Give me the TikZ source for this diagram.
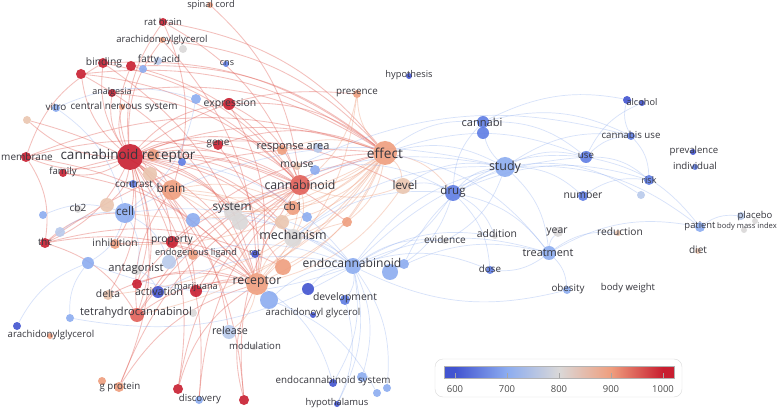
\documentclass[tikz,border=0pt]{standalone}
\usepackage{fontspec}
\setmainfont{Open Sans}
\definecolor{c6}{RGB}{66,84,208}
\definecolor{c65}{RGB}{95,125,228}
\definecolor{c7}{RGB}{140,172,240}
\definecolor{c75}{RGB}{185,202,236}
\definecolor{c8}{RGB}{218,216,216}
\definecolor{c85}{RGB}{234,198,176}
\definecolor{c9}{RGB}{239,158,126}
\definecolor{c95}{RGB}{226,96,88}
\definecolor{c10}{RGB}{200,30,48}
\definecolor{txt}{RGB}{55,55,62}
\pgfdeclarehorizontalshading{vosbar}{100bp}{color(0bp)=(c6); color(27.4bp)=(c6); color(38.7bp)=(c7); color(50bp)=(c8); color(61.3bp)=(c9); color(72.6bp)=(c10); color(100bp)=(c10)}
\pgfdeclarelayer{edges}
\pgfdeclarelayer{labels}
\pgfsetlayers{edges,main,labels}
\tikzset{
    bubble/.style = {circle, inner sep=0pt, fill=#1, fill opacity=0.9},
    kwlabel/.style = {inner sep=0pt, text=txt},
    redlink/.style = {draw=c95, draw opacity=0.4, line width=0.85pt},
    peachlink/.style = {draw=c9, draw opacity=0.4, line width=0.8pt},
    bluelink/.style = {draw=c7, draw opacity=0.35, line width=0.7pt},
    legendbox/.style = {draw=gray!30, fill=white, rounded corners=8pt},
    tick/.style = {draw=gray!70, line width=0.6pt},
    ticklabel/.style = {inner sep=0pt, text=gray!60!black, font=\fontsize{9.5}{9.5}\selectfont}
}

\begin{document}
\begin{tikzpicture}[x=1pt, y=-1pt]
    \useasboundingbox (0,0) rectangle (778,411);
    \foreach \n/\x/\y/\r/\c in {
        cr/130/157/13/c10, u1/153/155/6/c9, u2/150/174/7/c85, brain/172/190/10/c9,
        cell/125/213/10/c7, contrast/133/184/4/c65, u3/182/162/4/c65, family/63/173/4/c10,
        membrane/26/157/5/c10, vitro/56/108/4/c7, u4/27/120/4/c85, cns2/122/107/3/c9,
        analgesia/112/93/4/c10, binding/103/63/5/c10, u5/81/74/5/c10, u6/131/66/5/c10,
        u7/143/69/4/c7, fatty/158/61/4/c75, aglyc/162/40/3/c9, u8/183/49/4/c8,
        ratbrain/163/22/4/c10, spinal/210/5/3/c9, cns/226/64/3/c65, expression/229/104/6/c10,
        u9/196/99/5/c7, gene/218/145/5/c10, thc/45/243/5/c10, cb2/78/209/4/c8,
        u10/43/215/4/c7, u11/60/232/5/c75, u12/107/205/7/c85, inhibition/115/244/5/c9,
        property/172/242/6/c10, ligand/193/255/5/c9, u13/193/220/7/c7, antagonist/137/270/5/c8,
        u14/169/262/7/c75, u15/88/263/6/c7, delta/108/295/5/c85, activation/158/292/6/c6,
        u16/137/284/5/c10, marijuana/196/291/6/c10, thcan/137/315/7/c95, u17/193/313/4/c8,
        u18/70/318/4/c7, aglyc2/50/336/3/c9, u19/17/326/4/c6, gprotein/119/387/5/c9,
        u20/102/381/4/c9, u21/178/389/5/c10, discovery/199/400/4/c7, u22/244/400/5/c10,
        release/229/332/7/c75, modulation/254/347/3/c8, rat/255/254/4/c6, receptor/257/284/11/c9,
        u23/283/267/8/c9, u24/269/300/9/c7, u25/308/289/6/c6, mechanism/293/238/9/c8,
        system/233/212/9/c8, u26/240/222/8/c8, cannabinoid/300/185/10/c95, cb1/293/208/7/c9,
        u27/282/222/7/c85, u28/307/217/5/c7, u29/347/222/5/c9, mouse/297/166/4/c85,
        u30/315/170/5/c7, response/282/150/5/c9, u31/318/148/5/c75, effect/385/153/12/c9,
        presence/357/94/4/c9, hypothesis/409/76/3/c6, level/403/186/8/c85, drug/453/193/8/c65,
        cannabi/483/122/6/c65, u32/483/133/6/c65, study/505/167/10/c7, evidence/445/241/3/c8,
        addition/495/236/3/c8, dose/490/270/4/c65, year/558/232/5/c8, treatment/549/253/7/c7,
        endo/353/266/8/c7, u33/390/272/8/c7, u34/404/264/5/c7, development/345/300/5/c65,
        aglyc3/313/315/3/c6, ecs/333/383/4/c6, u35/362/377/5/c7, u36/377/393/4/c7,
        u37/387/388/4/c7, hypothalamus/337/404/3/c6, use/586/157/6/c65, cuse/631/136/4/c65,
        alcohol/642/103/3/c6, u38/627/100/4/c6, prevalence/693/152/3/c6, individual/695/167/3/c65,
        risk/649/180/5/c65, u39/641/195/4/c75, number/583/196/5/c65, patient/700/227/5/c7,
        placebo/755/221/3/c8, u40/741/216/4/c75, bmi/744/230/3/c8, diet/698/251/3/c85,
        reduction/618/233/3/c85, obesity/567/290/4/c7, bweight/628/289/2/c8}
        \node[bubble=\c, minimum size={2*\r}] (\n) at (\x,\y) {};
    \begin{pgfonlayer}{labels}
    \foreach \n/\x/\y/\s/\t in {
        cr/128/156/13.5/cannabinoid receptor, brain/171/188/11.8/brain, cell/125/211/11.6/cell,
        contrast/134/184/9.9/contrast, family/63/172/9.6/family, membrane/27/157/10/membrane,
        vitro/56/107/9.9/vitro, cns2/124/107/9.9/central nervous system, analgesia/112/92/9/analgesia,
        binding/104/63/10.3/binding, fatty/159/60/9.9/fatty acid, aglyc/162/40/9.5/arachidonoylglycerol,
        ratbrain/163/22/9.5/rat brain, spinal/211/5/9.3/spinal cord, cns/227/63/9/cns,
        expression/230/104/10.4/expression, gene/218/144/10/gene, thc/45/242/9.7/thc,
        cb2/78/208/10/cb2, inhibition/115/243/10.2/inhibition, property/172/240/10.3/property,
        ligand/196/253/9.2/endogenous ligand, antagonist/136/269/11.2/antagonist, delta/108/294/10.3/delta,
        activation/159/292/10.6/activation, marijuana/196/287/9.2/marijuana,
        thcan/136/313/11.1/tetrahydrocannabinol, aglyc2/51/335/9.6/arachidonylglycerol,
        gprotein/120/387/9.7/g protein, discovery/200/399/9.6/discovery, release/230/330/10.7/release,
        modulation/255/346/9.6/modulation, rat/255/253/9.1/rat, receptor/257/282/12.3/receptor,
        mechanism/293/235/12.4/mechanism, system/232/208/11.8/system, cannabinoid/300/185/12.3/cannabinoid,
        cb1/293/206/11.4/cb1, mouse/297/165/10.4/mouse, response/293/148/11/response area,
        effect/385/153/13.7/effect, presence/357/93/9.8/presence, hypothesis/409/75/9.3/hypothesis,
        level/405/185/11.8/level, drug/453/192/11.5/drug, cannabi/482/122/11.1/cannabi,
        study/505/167/12.5/study, evidence/445/240/10.1/evidence, addition/497/234/10.4/addition,
        dose/490/269/9.8/dose, year/557/232/10.4/year, treatment/548/253/10.9/treatment,
        endo/352/263/12.1/endocannabinoid, development/345/298/10.4/development,
        aglyc3/313/313/9.6/arachidonoyl glycerol, ecs/333/381/9.8/endocannabinoid system,
        hypothalamus/337/403/9.4/hypothalamus, use/586/156/9.7/use, cuse/631/135/9.7/cannabis use,
        alcohol/642/102/9.2/alcohol, prevalence/694/151/9.6/prevalence, individual/695/166/9.7/individual,
        risk/649/180/9/risk, number/583/195/10.4/number, patient/700/226/9.4/patient,
        placebo/755/216/9.5/placebo, bmi/747/227/7.6/body mass index, diet/698/250/10.1/diet,
        reduction/620/232/10.2/reduction, obesity/568/289/9.8/obesity, bweight/628/288/9.5/body weight}
        \node[kwlabel, font=\fontsize{\s}{\s}\selectfont] (\n-t) at (\x,\y) {\t};
    \end{pgfonlayer}
    \begin{pgfonlayer}{edges}
    \fill[white] (0,0) rectangle (778,411);
    \foreach \a/\b in {cr/membrane, cr/family, cr/binding, cr/u5, cr/u6, cr/analgesia, cr/ratbrain,
        cr/aglyc, cr/expression, cr/gene, cr/effect, cr/cannabinoid, cr/brain, cr/system, cr/mechanism,
        cr/receptor, cr/thc, cr/inhibition, cr/property, cr/marijuana, cr/thcan, cr/gprotein,
        cr/discovery, cr/level, cr/presence, cr/response, cr/cb1, cr/delta, cr/u21, cr/u22, cr/release,
        cr/cns2, cr/u16, cr/u23, cr/u29, cr/u4, cr/u12, cr/u2, cr/u1, cr/ligand, cr/u26, cr/u27,
        membrane/binding, membrane/thc, thc/thcan, thc/cell, thc/u23,
        ratbrain/effect, ratbrain/brain, binding/effect, binding/cannabinoid, expression/effect,
        expression/receptor, gene/receptor, analgesia/cannabinoid, u5/receptor, u6/cannabinoid,
        thcan/effect, thcan/receptor, marijuana/effect, property/effect, gprotein/receptor,
        u21/receptor, discovery/cannabinoid, u22/cannabinoid, family/receptor, membrane/receptor,
        aglyc/receptor, spinal/cannabinoid, u16/receptor, u5/effect, u6/effect, binding/receptor,
        u5/cannabinoid, ratbrain/cannabinoid, aglyc/effect, analgesia/effect, membrane/effect,
        membrane/cannabinoid, family/cannabinoid, thc/receptor, thc/effect, u21/cannabinoid,
        thcan/cannabinoid, thcan/brain, marijuana/receptor, gprotein/cannabinoid, expression/cannabinoid,
        gene/effect, gene/cannabinoid, inhibition/receptor, property/receptor, delta/receptor,
        u16/cannabinoid, u4/receptor, u22/receptor}
        \draw[redlink] (\a) to[bend left=20] (\b);
    \foreach \a/\b in {effect/cannabinoid, effect/brain, effect/receptor, effect/mechanism, effect/level,
        effect/system, effect/cell, effect/presence, effect/drug, brain/receptor, cannabinoid/receptor,
        cannabinoid/brain, cannabinoid/system, receptor/mechanism, receptor/cb1, receptor/release,
        response/effect, effect/u29, effect/thcan, effect/u23, presence/cannabinoid, effect/marijuana,
        effect/cb1, effect/u27, effect/inhibition, effect/delta, brain/cb1, brain/mechanism,
        receptor/u29, cannabinoid/mechanism, level/cannabinoid, presence/receptor, level/receptor}
        \draw[peachlink] (\a) to[bend left=20] (\b);
    \foreach \a/\b in {drug/study, drug/cannabi, drug/treatment, drug/endo, drug/use, study/use,
        study/cannabi, study/treatment, study/number, cannabi/cuse, cannabi/use, use/cuse, use/risk,
        use/alcohol, cuse/risk, cuse/u38, treatment/obesity, treatment/year, treatment/dose,
        treatment/patient, endo/study, endo/treatment, endo/development, endo/ecs, endo/u35, endo/u37,
        endo/hypothalamus, development/hypothalamus, receptor/ecs, vitro/cell, u10/cell, u11/cell,
        cell/antagonist, cell/u15, activation/endo, antagonist/activation, cell/study, effect/study,
        effect/cannabi, level/drug, mechanism/drug, study/patient, study/evidence, drug/addition,
        number/risk, u24/endo, u25/endo, mechanism/endo, system/endo, u24/u36, cell/u14, u14/endo,
        u18/u15, u19/u15, cell/endo, drug/u33, u34/study, endo/use, study/u39, cannabi/alcohol,
        patient/u40, endo/u15, endo/u18, vitro/u9, u9/cell, mechanism/study, system/study, level/study,
        effect/use, effect/treatment, drug/risk, study/cuse, use/patient,
        treatment/reduction, drug/dose, endo/dose, endo/evidence, endo/addition,
        u33/treatment, mouse/cuse, u30/drug, u3/endo, u13/endo, obesity/endo}
        \draw[bluelink] (\a) to[bend left=20] (\b);
    \end{pgfonlayer}
    \node[legendbox, minimum width=247, minimum height=38] (legend) at (558.5,378) {};
    \node[draw=gray!60, line width=0.4pt, shade, shading=vosbar, minimum width=230, minimum height=12, inner sep=0pt] (bar) at (559,372) {};
    \foreach \v/\x in {600/455, 700/507, 800/559, 900/611, 1000/663} {
        \draw[tick] (\x,378) -- (\x,372.5);
        \node[ticklabel] (t\v) at (\x,389) {\v};
    }
\end{tikzpicture}
\end{document}
